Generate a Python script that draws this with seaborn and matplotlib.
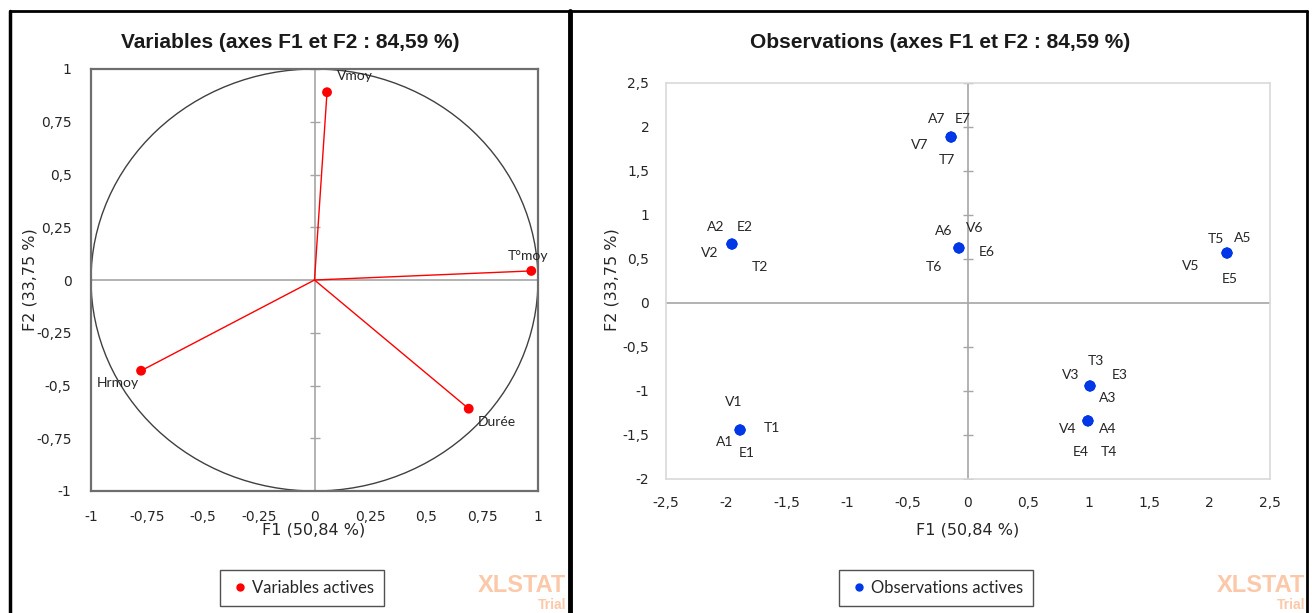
import numpy as np
import pandas as pd
import matplotlib.pyplot as plt
import seaborn as sns
from matplotlib.lines import Line2D
from matplotlib.patches import Circle
from matplotlib.ticker import FuncFormatter, MultipleLocator

# données : cercle des corrélations
var_names = ['Vmoy', 'T°moy', 'Hrmoy', 'Durée']
var_f1 = [0.056, 0.97, -0.776, 0.69]
var_f2 = [0.89, 0.043, -0.43, -0.61]

# données : observations (A, E, T, V superposés pour chaque numéro)
obs_num = ['1', '2', '3', '4', '5', '6', '7']
obs_f1 = [-1.887, -1.954, 1.01, 0.993, 2.144, -0.075, -0.14]
obs_f2 = [-1.443, 0.67, -0.943, -1.34, 0.568, 0.625, 1.886]
obs_prefix = ['A', 'E', 'T', 'V']

# décalages des étiquettes (pixels)
var_offsets = {'Vmoy': (28, 16), 'T°moy': (-3, 15), 'Hrmoy': (-23, -12), 'Durée': (28, -13)}
obs_offsets = {
    '1': {'A': (-15, -12), 'E': (7, -23), 'T': (32, 2), 'V': (-6, 28)},
    '2': {'A': (-16, 17), 'E': (13, 17), 'T': (28, -23), 'V': (-22, -9)},
    '3': {'A': (18, -12), 'E': (30, 11), 'T': (6, 25), 'V': (-19, 11)},
    '4': {'A': (20, -8), 'E': (-7, -31), 'T': (21, -31), 'V': (-20, -8)},
    '5': {'A': (16, 15), 'E': (3, -26), 'T': (-11, 14), 'V': (-36, -13)},
    '6': {'A': (-15, 17), 'E': (28, -4), 'T': (-25, -19), 'V': (16, 20)},
    '7': {'A': (-14, 18), 'E': (12, 18), 'T': (-4, -23), 'V': (-31, -8)},
}

rows = []
for n, x, y in zip(obs_num, obs_f1, obs_f2):
    for p in obs_prefix:
        rows.append({'obs': p + n, 'num': n, 'pre': p, 'F1': x, 'F2': y})
obs = pd.DataFrame(rows)
var = pd.DataFrame({'name': var_names, 'F1': var_f1, 'F2': var_f2})

sns.set_style('white')
plt.rcParams['font.family'] = ['DejaVu Sans']

fmt = FuncFormatter(lambda v, pos: f'{v:g}'.replace('.', ','))
label_font = 'Lato'
W, H = 1312, 613
fig = plt.figure(figsize=(W / 100, H / 100), dpi=100)

# ---------- panneau gauche : variables ----------
ax1 = fig.add_axes([91 / W, 1 - 491 / H, 447 / W, 422 / H])
ax1.set_xlim(-1, 1)
ax1.set_ylim(-1, 1)
ax1.axhline(0, color='#a6a6a6', lw=1.2, zorder=1)
ax1.axvline(0, color='#a6a6a6', lw=1.2, zorder=1)
ticks1 = [-1, -0.75, -0.5, -0.25, 0.25, 0.5, 0.75, 1]
ax1.plot([0] * len(ticks1), ticks1, ls='none', marker='_', ms=7, color='#a6a6a6', zorder=1)
ax1.add_patch(Circle((0, 0), 1, fill=False, ec='#404040', lw=1, clip_on=False, zorder=2))
for _, r in var.iterrows():
    ax1.plot([0, r['F1']], [0, r['F2']], color='#ff0000', lw=1, zorder=3)
sns.scatterplot(data=var, x='F1', y='F2', color='#ff0000', s=50, edgecolor='none', ax=ax1, zorder=4)
for _, r in var.iterrows():
    ax1.annotate(r['name'], (r['F1'], r['F2']), xytext=var_offsets[r['name']],
                 textcoords='offset pixels', ha='center', va='center',
                 fontsize=10, family=label_font, color='#262626', zorder=5)
ax1.xaxis.set_major_locator(MultipleLocator(0.25))
ax1.yaxis.set_major_locator(MultipleLocator(0.25))
ax1.xaxis.set_major_formatter(fmt)
ax1.yaxis.set_major_formatter(fmt)
ax1.tick_params(length=0, labelsize=10, colors='#262626', pad=14)
for s in ax1.spines.values():
    s.set_color('#6e6e6e')
    s.set_linewidth(1.6)
ax1.set_xlabel('')
ax1.set_ylabel('')

# ---------- panneau droit : observations ----------
ax2 = fig.add_axes([666 / W, 1 - 479 / H, 604 / W, 396 / H])
ax2.set_xlim(-2.5, 2.5)
ax2.set_ylim(-2, 2.5)
ax2.axhline(0, color='#a6a6a6', lw=1.2, zorder=1)
ax2.axvline(0, color='#a6a6a6', lw=1.2, zorder=1)
yt2 = [-2, -1.5, -1, -0.5, 0.5, 1, 1.5, 2, 2.5]
ax2.plot([0] * len(yt2), yt2, ls='none', marker='_', ms=7, color='#a6a6a6', zorder=1)
sns.scatterplot(data=obs, x='F1', y='F2', color='#0037e6', s=60, edgecolor='none', ax=ax2, zorder=4)
for _, r in obs.iterrows():
    ax2.annotate(r['obs'], (r['F1'], r['F2']), xytext=obs_offsets[r['num']][r['pre']],
                 textcoords='offset pixels', ha='center', va='center',
                 fontsize=10, family=label_font, color='#262626', zorder=5)
ax2.xaxis.set_major_locator(MultipleLocator(0.5))
ax2.yaxis.set_major_locator(MultipleLocator(0.5))
ax2.xaxis.set_major_formatter(fmt)
ax2.yaxis.set_major_formatter(fmt)
ax2.tick_params(length=0, labelsize=10, colors='#262626', pad=12)
for s in ax2.spines.values():
    s.set_color('#d9d9d9')
    s.set_linewidth(1.2)
ax2.set_xlabel('')
ax2.set_ylabel('')

# ---------- titres et libellés ----------
tkw = dict(fontsize=15, fontweight='bold', family='Liberation Sans', color='#1a1a1a', ha='center', va='center')
fig.text(290 / W, 1 - 43 / H, 'Variables (axes F1 et F2 : 84,59 %)', **tkw)
fig.text(940 / W, 1 - 43 / H, 'Observations (axes F1 et F2 : 84,59 %)', **tkw)
lkw = dict(fontsize=11.5, color='#262626', ha='center', va='center')
fig.text(314 / W, 1 - 530 / H, 'F1 (50,84 %)', **lkw)
fig.text(968 / W, 1 - 530 / H, 'F1 (50,84 %)', **lkw)
fig.text(30 / W, 1 - 280 / H, 'F2 (33,75 %)', rotation=90, **lkw)
fig.text(612 / W, 1 - 280 / H, 'F2 (33,75 %)', rotation=90, **lkw)

# ---------- légendes ----------
h1 = [Line2D([], [], ls='none', marker='o', ms=5, color='#ff0000')]
h2 = [Line2D([], [], ls='none', marker='o', ms=5, color='#0037e6')]
lg1 = fig.legend(h1, ['Variables actives'], loc='center', bbox_to_anchor=(302 / W, 1 - 588 / H),
                 prop={'family': label_font, 'size': 12}, fancybox=False, edgecolor='#262626',
                 handletextpad=0.1, handlelength=1.2, borderpad=0.6, borderaxespad=0)
lg2 = fig.legend(h2, ['Observations actives'], loc='center', bbox_to_anchor=(936 / W, 1 - 588 / H),
                 prop={'family': label_font, 'size': 12}, fancybox=False, edgecolor='#262626',
                 handletextpad=0.1, handlelength=1.2, borderpad=0.6, borderaxespad=0)
for lg in (lg1, lg2):
    lg.get_frame().set_linewidth(1)

# ---------- filigrane XLSTAT ----------
for xr in (566, 1305):
    fig.text(xr / W, 1 - 586 / H, 'XLSTAT', fontsize=17, fontweight='bold', color='#fbc3a0',
             family='Liberation Sans', ha='right', va='center', alpha=0.9)
    fig.text(xr / W, 1 - 605 / H, 'Trial', fontsize=10, fontweight='bold', color='#fbc3a0',
             family='Liberation Sans', ha='right', va='center', alpha=0.9)

# ---------- cadres ----------
fig.add_artist(Line2D([10 / W, 10 / W], [0, 1 - 11 / H], color='black', lw=2.5))
fig.add_artist(Line2D([10 / W, 1307 / W], [1 - 11 / H, 1 - 11 / H], color='black', lw=2))
fig.add_artist(Line2D([570 / W, 570 / W], [0, 1 - 11 / H], color='black', lw=3.5))
fig.add_artist(Line2D([1307 / W, 1307 / W], [0, 1 - 11 / H], color='black', lw=2))

fig.savefig('out.png', dpi=100, facecolor='white')
